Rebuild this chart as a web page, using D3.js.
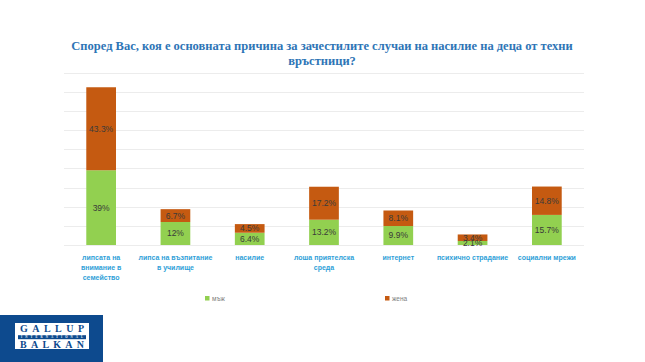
<!DOCTYPE html>
<html lang="bg">
<head>
  <meta charset="UTF-8">
  <title>Причини за насилие</title>
  <script src="https://d3js.org/d3.v7.min.js"></script>
  <style>
    body { margin: 0; background: #fff; }
    svg { display: block; }
  </style>
</head>
<body>
  <div id="chart"></div>
  <script>
    // данни
    const categories = [
      ["липсата на", "внимание в", "семейство"],
      ["липса на възпитание", "в училище"],
      ["насилие"],
      ["лоша приятелска", "среда"],
      ["интернет"],
      ["психично страдание"],
      ["социални мрежи"]
    ];
    const male = [39, 12, 6.4, 13.2, 9.9, 2.1, 15.7];
    const female = [43.3, 6.7, 4.5, 17.2, 8.1, 3.4, 14.8];
    const seriesNames = ["мъж", "жена"];
    const titleLines = [
      "Според Вас, коя е основната причина за зачестилите случаи на насилие на деца от техни",
      "връстници?"
    ];
    const yTicks = [0, 10, 20, 30, 40, 50, 60, 70, 80, 90];

    const width = 645, height = 362;
    const colors = ["#92d050", "#c55a11"];

    const svg = d3.select("#chart").append("svg")
      .attr("width", width)
      .attr("height", height);

    // заглавие
    svg.append("g").selectAll("text")
      .data(titleLines)
      .enter().append("text")
      .attr("x", 322)
      .attr("y", (d, i) => 50 + i * 15)
      .attr("text-anchor", "middle")
      .attr("font-family", "Liberation Serif, serif")
      .attr("font-weight", "bold")
      .attr("font-size", 12.5)
      .attr("fill", "#2e75b6")
      .text(d => d);

    const x = d3.scaleBand()
      .domain(d3.range(categories.length))
      .range([64, 584])
      .paddingInner(0.6)
      .paddingOuter(0.3);

    const y = d3.scaleLinear()
      .domain([0, 90])
      .range([245, 72.5]);

    // мрежа
    svg.append("g")
      .selectAll("line")
      .data(yTicks)
      .enter().append("line")
      .attr("x1", 64)
      .attr("x2", 584)
      .attr("y1", d => Math.round(y(d)) + 0.5)
      .attr("y2", d => Math.round(y(d)) + 0.5)
      .attr("stroke", "#ececec")
      .attr("stroke-width", 1);

    const stacked = categories.map((c, i) => ({ i, m: male[i], f: female[i] }));

    const bars = svg.append("g");

    bars.selectAll(".m")
      .data(stacked)
      .enter().append("rect")
      .attr("class", "m")
      .attr("x", d => x(d.i))
      .attr("width", x.bandwidth())
      .attr("y", d => y(d.m))
      .attr("height", d => y(0) - y(d.m))
      .attr("fill", colors[0]);

    bars.selectAll(".f")
      .data(stacked)
      .enter().append("rect")
      .attr("class", "f")
      .attr("x", d => x(d.i))
      .attr("width", x.bandwidth())
      .attr("y", d => y(d.m + d.f))
      .attr("height", d => y(d.m) - y(d.m + d.f))
      .attr("fill", colors[1]);

    // стойности
    const fmt = v => String(v) + "%";

    bars.selectAll(".lm")
      .data(stacked)
      .enter().append("text")
      .attr("x", d => x(d.i) + x.bandwidth() / 2)
      .attr("y", d => (y(0) + y(d.m)) / 2)
      .attr("dy", "0.35em")
      .attr("text-anchor", "middle")
      .attr("font-family", "Liberation Sans, sans-serif")
      .attr("font-size", 8.5)
      .attr("fill", "#3a3a3a")
      .text(d => fmt(d.m));

    bars.selectAll(".lf")
      .data(stacked)
      .enter().append("text")
      .attr("x", d => x(d.i) + x.bandwidth() / 2)
      .attr("y", d => (y(d.m) + y(d.m + d.f)) / 2)
      .attr("dy", "0.35em")
      .attr("text-anchor", "middle")
      .attr("font-family", "Liberation Sans, sans-serif")
      .attr("font-size", 8.5)
      .attr("fill", "#3a3a3a")
      .text(d => fmt(d.f));

    // категории
    const catG = svg.append("g");
    categories.forEach((lines, i) => {
      catG.append("text")
        .attr("x", x(i) + x.bandwidth() / 2)
        .attr("text-anchor", "middle")
        .attr("font-family", "Liberation Sans, sans-serif")
        .attr("font-weight", "bold")
        .attr("font-size", 7)
        .attr("fill", "#2f9fd8")
        .selectAll("tspan")
        .data(lines)
        .enter().append("tspan")
        .attr("x", x(i) + x.bandwidth() / 2)
        .attr("y", (d, j) => 259.5 + j * 10)
        .text(d => d);
    });

    // легенда
    const legendX = [205, 385];
    const legend = svg.append("g").selectAll("g")
      .data(seriesNames)
      .enter().append("g")
      .attr("transform", (d, i) => `translate(${legendX[i]}, 296)`);
    legend.append("rect")
      .attr("width", 4.5)
      .attr("height", 4.5)
      .attr("fill", (d, i) => colors[i]);
    legend.append("text")
      .attr("x", 7)
      .attr("y", 4.5)
      .attr("font-family", "Liberation Sans, sans-serif")
      .attr("font-size", 6.5)
      .attr("fill", "#808080")
      .text(d => d);

    // лого
    const logo = svg.append("g");
    logo.append("rect")
      .attr("x", 0).attr("y", 315)
      .attr("width", 103).attr("height", 47)
      .attr("fill", "#0d4a8e");
    logo.append("rect")
      .attr("x", 15).attr("y", 323)
      .attr("width", 74).attr("height", 26)
      .attr("fill", "#fff");
    logo.append("rect")
      .attr("x", 18).attr("y", 335.2)
      .attr("width", 68).attr("height", 4)
      .attr("fill", "#0d4a8e");
    logo.append("text")
      .attr("x", 52).attr("y", 332.3)
      .attr("text-anchor", "middle")
      .attr("font-family", "Liberation Serif, serif")
      .attr("font-weight", "bold")
      .attr("font-size", 10)
      .attr("textLength", 64)
      .attr("fill", "#0d4a8e")
      .text("GALLUP");
    logo.append("text")
      .attr("x", 52).attr("y", 338.4)
      .attr("text-anchor", "middle")
      .attr("font-family", "Liberation Serif, serif")
      .attr("font-weight", "bold")
      .attr("font-size", 3)
      .attr("textLength", 62)
      .attr("fill", "#fff")
      .text("INTERNATIONAL");
    logo.append("text")
      .attr("x", 52).attr("y", 348)
      .attr("text-anchor", "middle")
      .attr("font-family", "Liberation Serif, serif")
      .attr("font-weight", "bold")
      .attr("font-size", 10)
      .attr("textLength", 64)
      .attr("fill", "#0d4a8e")
      .text("BALKAN");
  </script>
</body>
</html>
